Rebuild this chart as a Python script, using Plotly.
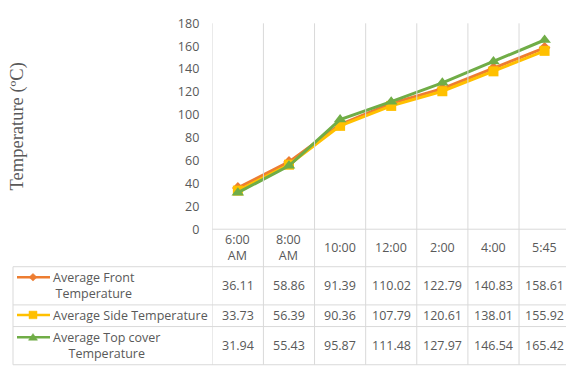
import plotly.graph_objects as go

# ---- data ----
times = ["6:00<br>AM", "8:00<br>AM", "10:00", "12:00", "2:00", "4:00", "5:45"]
front_temp = [36.11, 58.86, 91.39, 110.02, 122.79, 140.83, 158.61]
side_temp = [33.73, 56.39, 90.36, 107.79, 120.61, 138.01, 155.92]
top_cover_temp = [31.94, 55.43, 95.87, 111.48, 127.97, 146.54, 165.42]
series_labels = [
    "Average Front<br>Temperature",
    "Average Side Temperature",
    "Average Top cover<br>Temperature",
]
y_ticks = [0, 20, 40, 60, 80, 100, 120, 140, 160, 180]

# ---- styling ----
W, H = 566, 374
FONT = "Open Sans"
TEXT = "#595959"
GRID = "#d9d9d9"
colors = ["#ED7D31", "#FFC000", "#70AD47"]
symbols = ["diamond", "square", "triangle-up"]
marker_sizes = [9, 10, 11]


def px(x):
    return x / W


def py(y):
    return 1 - y / H


idx = list(range(len(times)))
series = [front_temp, side_temp, top_cover_temp]

fig = go.Figure()
for vals, col, sym, ms in zip(series, colors, symbols, marker_sizes):
    fig.add_trace(go.Scatter(
        x=idx, y=vals, mode="lines+markers",
        line=dict(color=col, width=3),
        marker=dict(symbol=sym, size=ms, color=col),
        cliponaxis=False, showlegend=False,
    ))

plot_left = 212.3
col_w = 51.12
x_end = -0.5 + (W - plot_left) / col_w

shapes = []
# column separators running from the top of the plot through the table
for i in range(len(times) + 1):
    shapes.append(dict(type="line", xref="x", yref="paper",
                       x0=i - 0.5, x1=i - 0.5, y0=py(15), y1=py(372.7),
                       line=dict(color=GRID, width=1)))
# horizontal axis line at 0
shapes.append(dict(type="line", xref="paper", yref="paper",
                   x0=px(plot_left), x1=1, y0=py(230.7), y1=py(230.7),
                   line=dict(color=GRID, width=1)))
# table row lines
for yy in [270, 310, 332.7, 372.7]:
    shapes.append(dict(type="line", xref="paper", yref="paper",
                       x0=px(13), x1=1, y0=py(yy), y1=py(yy),
                       line=dict(color=GRID, width=1)))
# table left border
shapes.append(dict(type="line", xref="paper", yref="paper",
                   x0=px(13), x1=px(13), y0=py(270), y1=py(372.7),
                   line=dict(color=GRID, width=1)))

# legend keys inside the table
key_rows = [281, 320.5, 344]
for yk, col, sym in zip(key_rows, colors, symbols):
    shapes.append(dict(type="line", xref="paper", yref="paper",
                       x0=px(17), x1=px(50), y0=py(yk), y1=py(yk),
                       line=dict(color=col, width=2.5)))
    cx = 33
    if sym == "diamond":
        pts = [(cx, yk - 4), (cx + 4, yk), (cx, yk + 4), (cx - 4, yk)]
    elif sym == "square":
        pts = [(cx - 4, yk - 4), (cx + 4, yk - 4), (cx + 4, yk + 4), (cx - 4, yk + 4)]
    else:
        pts = [(cx, yk - 4), (cx + 4.5, yk + 3), (cx - 4.5, yk + 3)]
    path = "M " + " L ".join(f"{px(a):.5f},{py(b):.5f}" for a, b in pts) + " Z"
    shapes.append(dict(type="path", xref="paper", yref="paper", path=path,
                       fillcolor=col, line=dict(color=col, width=0.5)))

annotations = []
# header row: time labels
for i, t in enumerate(times):
    annotations.append(dict(x=i, y=py(250), xref="x", yref="paper",
                            text=t, showarrow=False, xanchor="center",
                            yanchor="middle", align="center",
                            font=dict(family=FONT, size=12.5, color=TEXT)))
# series labels and values
row_centres = [290, 321, 352.7]
for lab, vals, yc in zip(series_labels, series, row_centres):
    annotations.append(dict(x=px(51), y=py(yc), xref="paper", yref="paper",
                            text=lab, showarrow=False, xanchor="left",
                            yanchor="middle", align="center",
                            font=dict(family=FONT, size=12.5, color=TEXT)))
    for i, v in enumerate(vals):
        annotations.append(dict(x=i, y=py(yc), xref="x", yref="paper",
                                text=f"{v:.2f}", showarrow=False,
                                xanchor="center", yanchor="middle",
                                font=dict(family=FONT, size=12.5, color=TEXT)))
# y-axis title
annotations.append(dict(x=px(17), y=py(123), xref="paper", yref="paper",
                        text="Temperature (ºC)", textangle=-90, showarrow=False,
                        xanchor="center", yanchor="middle",
                        font=dict(family="Liberation Serif", size=18.5, color=TEXT)))

fig.update_layout(
    width=W, height=H, autosize=False,
    margin=dict(l=0, r=0, t=0, b=0),
    paper_bgcolor="white", plot_bgcolor="white",
    xaxis=dict(domain=[plot_left / W, 1], range=[-0.5, x_end],
               showgrid=False, zeroline=False, showticklabels=False,
               showline=False, fixedrange=True),
    yaxis=dict(domain=[py(230.7), py(15)], range=[0, 180],
               tickvals=y_ticks, showgrid=False, zeroline=False,
               showline=False, ticks="", ticklabelstandoff=12,
               tickfont=dict(family=FONT, size=12.5, color=TEXT)),
    shapes=shapes,
    annotations=annotations,
    showlegend=False,
)

fig.write_html("out.html", config={"displayModeBar": False})
